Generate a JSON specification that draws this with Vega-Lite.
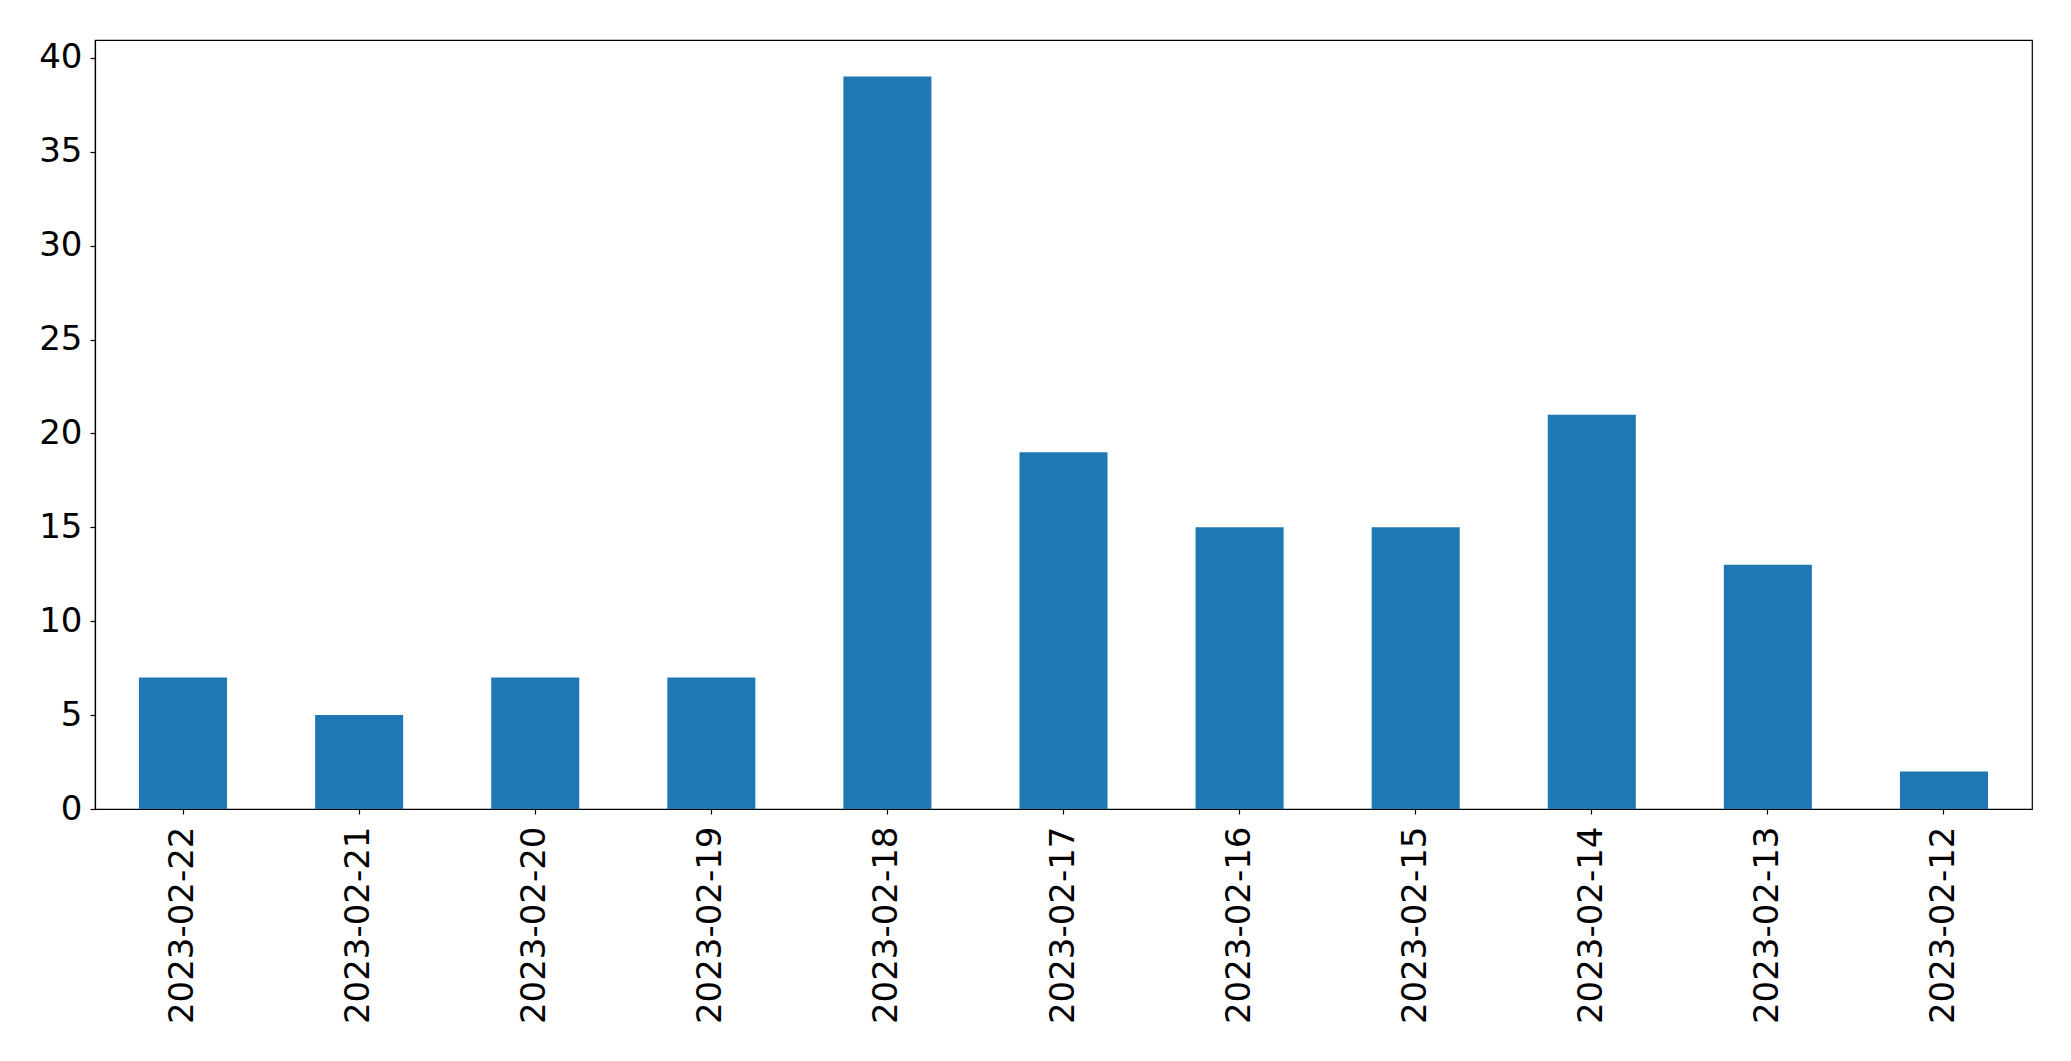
{
  "$schema": "https://vega.github.io/schema/vega-lite/v6.json",
  "autosize": "none",
  "padding": {"left": 95, "top": 40, "right": 39, "bottom": 252},
  "width": 1937,
  "height": 769,
  "background": "white",
  "config": {
    "view": {"stroke": "black", "strokeWidth": 1.2},
    "font": "DejaVu Sans"
  },
  "data": {
    "values": [
      {"date": "2023-02-22", "count": 7},
      {"date": "2023-02-21", "count": 5},
      {"date": "2023-02-20", "count": 7},
      {"date": "2023-02-19", "count": 7},
      {"date": "2023-02-18", "count": 39},
      {"date": "2023-02-17", "count": 19},
      {"date": "2023-02-16", "count": 15},
      {"date": "2023-02-15", "count": 15},
      {"date": "2023-02-14", "count": 21},
      {"date": "2023-02-13", "count": 13},
      {"date": "2023-02-12", "count": 2}
    ]
  },
  "mark": {"type": "bar", "color": "#1f77b4"},
  "encoding": {
    "x": {
      "field": "date",
      "type": "nominal",
      "sort": null,
      "scale": {"paddingInner": 0.5, "paddingOuter": 0.25},
      "axis": {
        "title": null,
        "labelAngle": -90,
        "labelAlign": "right",
        "labelBaseline": "middle",
        "labelFontSize": 34,
        "labelLimit": 0,
        "labelColor": "black",
        "labelPadding": 12,
        "tickColor": "black",
        "tickSize": 5,
        "tickWidth": 1.2,
        "domainColor": "black",
        "domainWidth": 1.2
      }
    },
    "y": {
      "field": "count",
      "type": "quantitative",
      "scale": {"domain": [0, 40.95], "nice": false},
      "axis": {
        "title": null,
        "values": [0, 5, 10, 15, 20, 25, 30, 35, 40],
        "grid": false,
        "labelFontSize": 34,
        "labelColor": "black",
        "labelPadding": 8,
        "tickColor": "black",
        "tickSize": 5,
        "tickWidth": 1.2,
        "domainColor": "black",
        "domainWidth": 1.2
      }
    }
  }
}
